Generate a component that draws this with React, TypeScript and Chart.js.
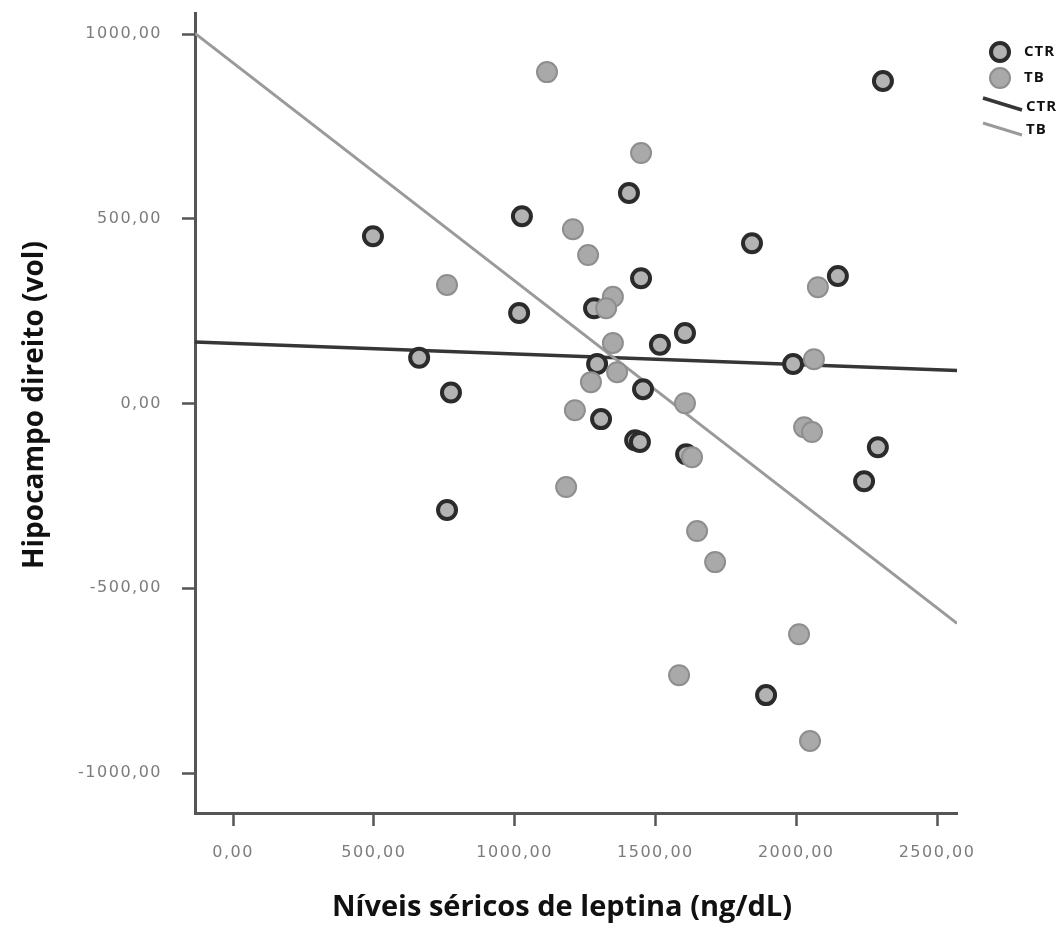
import React, { useEffect, useRef } from 'react';
import { Chart, registerables } from 'chart.js';

Chart.register(...registerables);

// ---- Data ----
const ctrX = [497, 1026, 1406, 2308, 661, 774, 1016, 1282, 1449, 1843, 2148, 1293, 1516, 1605, 1989, 1307, 1456, 1428, 1445, 1609, 2290, 2241, 760, 1893];
const ctrY = [453, 507, 570, 873, 124, 30, 245, 258, 339, 434, 345, 107, 159, 191, 107, -42, 39, -99, -104, -137, -118, -210, -288, -789];

const tbX = [1115, 1449, 1207, 1261, 760, 1349, 1325, 1349, 1364, 1271, 1214, 1605, 2077, 2063, 2028, 2056, 1630, 1183, 1648, 1712, 1584, 2010, 2049];
const tbY = [897, 678, 472, 402, 321, 289, 258, 164, 85, 58, -18, 1, 315, 120, -64, -77, -145, -226, -345, -429, -735, -624, -913];

// fit lines: [intercept, slope]
const ctrFit = [163, -0.0285];
const tbFit = [922, -0.59];

const xMin = -135;
const xMax = 2571;
const yMin = -1108;
const yMax = 1057;

const xTickValues = [0, 500, 1000, 1500, 2000, 2500];
const xTickLabels = ['0,00', '500,00', '1000,00', '1500,00', '2000,00', '2500,00'];
const yTickValues = [-1000, -500, 0, 500, 1000];
const yTickLabels = ['-1000,00', '-500,00', '0,00', '500,00', '1000,00'];

const seriesNames = ['CTR', 'TB'];

const xTitle = 'Níveis séricos de leptina (ng/dL)';
const yTitle = 'Hipocampo direito (vol)';

// ---- Styles ----
const CTR_RING = '#2b2b2b';
const CTR_FILL = '#b3b3b3';
const TB_RING = '#8e8e8e';
const TB_FILL = '#a9a9a9';
const CTR_LINE = '#363636';
const TB_LINE = '#9a9a9a';
const AXIS = '#555555';
const TICK_TEXT = '#7c7c7c';

const toPoints = (xs: number[], ys: number[]) => xs.map((x, i) => ({ x, y: ys[i] }));
const fitPoints = (fit: number[]) => [
  { x: xMin, y: fit[0] + fit[1] * xMin },
  { x: xMax, y: fit[0] + fit[1] * xMax },
];

// tick label letter spacing + small title offsets
const titleShift: Record<string, [number, number]> = { x: [-14, 0], y: [0, -8] };
const scaleTweaksPlugin = {
  id: 'scaleTweaks',
  beforeDraw(chart: any) {
    Object.values(chart.scales).forEach((s: any) => {
      if (s._tweaked) return;
      const origLabels = s.drawLabels.bind(s);
      s.drawLabels = (area: any) => {
        const c: any = chart.ctx;
        c.save();
        c.letterSpacing = '1.5px';
        origLabels(area);
        c.restore();
      };
      const origTitle = s.drawTitle.bind(s);
      s.drawTitle = () => {
        const c: any = chart.ctx;
        const sh = titleShift[s.id] || [0, 0];
        c.save();
        c.translate(sh[0], sh[1]);
        origTitle();
        c.restore();
      };
      s._tweaked = true;
    });
  },
};

const legendPlugin = {
  id: 'sideLegend',
  afterDraw(chart: any) {
    const ctx = chart.ctx as any;
    const ds = chart.data.datasets;
    ctx.save();
    ctx.font = 'bold 15px "Open Sans"';
    ctx.letterSpacing = '1px';
    ctx.textBaseline = 'middle';
    ctx.textAlign = 'left';
    const cx = 992;
    const tx = 1016;
    const markerRows = [44, 70];
    [0, 1].forEach((k) => {
      const d = ds.find((q: any) => q.label === seriesNames[k] && !q.showLine);
      if (!d) return;
      ctx.beginPath();
      ctx.arc(cx, markerRows[k], d.pointRadius, 0, Math.PI * 2);
      ctx.fillStyle = d.pointBackgroundColor;
      ctx.fill();
      ctx.lineWidth = d.pointBorderWidth;
      ctx.strokeStyle = d.pointBorderColor;
      ctx.stroke();
      ctx.fillStyle = '#111';
      ctx.fillText(d.label, tx, markerRows[k]);
    });
    const lineRows = [[90, 102, 99], [115, 127, 122]];
    [0, 1].forEach((k) => {
      const d = ds.find((q: any) => q.label === seriesNames[k] && q.showLine);
      if (!d) return;
      ctx.beginPath();
      ctx.moveTo(975, lineRows[k][0]);
      ctx.lineTo(1014, lineRows[k][1]);
      ctx.lineWidth = d.borderWidth;
      ctx.strokeStyle = d.borderColor;
      ctx.stroke();
      ctx.fillStyle = '#111';
      ctx.fillText(d.label, tx + 2, lineRows[k][2]);
    });
    ctx.restore();
  },
};

export default function App() {
  const canvasRef = useRef<HTMLCanvasElement | null>(null);

  useEffect(() => {
    if (!canvasRef.current) return;
    Chart.defaults.font.family = '"Open Sans", sans-serif';
    const zeroPad = (s: any) => {
      s.paddingLeft = 0;
      s.paddingRight = 0;
      s.paddingTop = 0;
      s.paddingBottom = 0;
    };
    const chart = new Chart(canvasRef.current, {
      type: 'scatter',
      data: {
        datasets: [
          {
            label: seriesNames[0],
            data: toPoints(ctrX, ctrY),
            pointRadius: 9,
            pointBackgroundColor: CTR_FILL,
            pointBorderColor: CTR_RING,
            pointBorderWidth: 4,
            showLine: false,
            order: 1,
          } as any,
          {
            label: seriesNames[1],
            data: toPoints(tbX, tbY),
            pointRadius: 10,
            pointBackgroundColor: TB_FILL,
            pointBorderColor: TB_RING,
            pointBorderWidth: 2,
            showLine: false,
            order: 0,
          } as any,
          {
            label: seriesNames[0],
            data: fitPoints(ctrFit),
            showLine: true,
            pointRadius: 0,
            borderColor: CTR_LINE,
            borderWidth: 3.5,
            order: 3,
          } as any,
          {
            label: seriesNames[1],
            data: fitPoints(tbFit),
            showLine: true,
            pointRadius: 0,
            borderColor: TB_LINE,
            borderWidth: 3,
            order: 2,
          } as any,
        ],
      },
      options: {
        animation: false,
        responsive: true,
        maintainAspectRatio: false,
        layout: { autoPadding: false, padding: { top: 5, right: 99, left: 0, bottom: 0 } },
        plugins: {
          legend: { display: false },
          tooltip: { enabled: false },
        },
        scales: {
          x: {
            type: 'linear',
            min: xMin,
            max: xMax,
            afterBuildTicks: (s: any) => {
              s.ticks = xTickValues.map((v) => ({ value: v }));
            },
            afterFit: (s: any) => {
              s.height = 118;
              zeroPad(s);
            },
            grid: {
              display: true,
              drawOnChartArea: false,
              drawTicks: true,
              tickLength: 13,
              tickColor: AXIS,
              tickWidth: 2.5,
            },
            border: { display: true, color: AXIS, width: 3 },
            ticks: {
              autoSkip: false,
              maxRotation: 0,
              padding: 17,
              color: TICK_TEXT,
              font: { family: '"DejaVu Sans"', size: 16 },
              callback: (v: any) => {
                const i = xTickValues.indexOf(Number(v));
                return i >= 0 ? xTickLabels[i] : '';
              },
            },
            title: {
              display: true,
              text: xTitle,
              color: '#111',
              font: { family: '"Open Sans"', weight: 'bold', size: 29, lineHeight: 1 },
              padding: { top: 0, bottom: 9 },
            },
          },
          y: {
            type: 'linear',
            min: yMin,
            max: yMax,
            afterBuildTicks: (s: any) => {
              s.ticks = yTickValues.map((v) => ({ value: v }));
            },
            afterFit: (s: any) => {
              s.width = 187;
              zeroPad(s);
            },
            grid: {
              display: true,
              drawOnChartArea: false,
              drawTicks: true,
              tickLength: 13,
              tickColor: AXIS,
              tickWidth: 2.5,
            },
            border: { display: true, color: AXIS, width: 3 },
            ticks: {
              autoSkip: false,
              padding: 20,
              color: TICK_TEXT,
              font: { family: '"DejaVu Sans"', size: 16 },
              callback: (v: any) => {
                const i = yTickValues.indexOf(Number(v));
                return i >= 0 ? yTickLabels[i] : '';
              },
            },
            title: {
              display: true,
              text: yTitle,
              color: '#111',
              font: { family: '"Open Sans"', weight: 'bold', size: 28, lineHeight: 1 },
              padding: { top: 13, bottom: 0 },
            },
          },
        },
      } as any,
      plugins: [scaleTweaksPlugin, legendPlugin],
    });
    return () => chart.destroy();
  }, []);

  return (
    <div style={{ position: 'relative', width: 1048, height: 923, marginBottom: -8 }}>
      <canvas ref={canvasRef} style={{ display: 'block' }} />
    </div>
  );
}
